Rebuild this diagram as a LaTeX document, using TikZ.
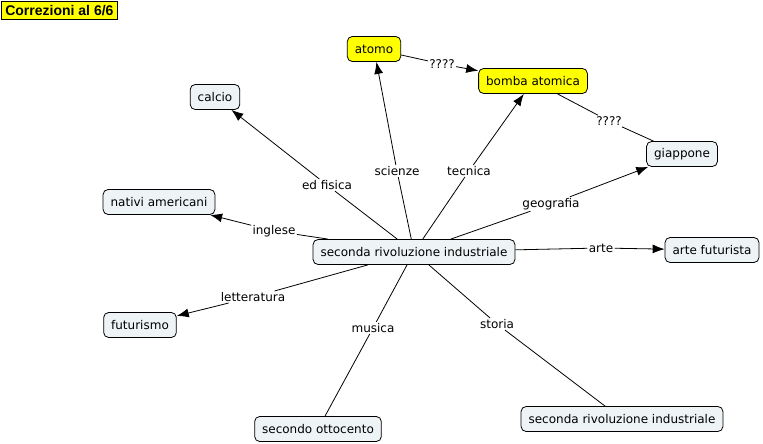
\documentclass[tikz,border=0pt]{standalone}
\usepackage{fontspec}
\setmainfont{DejaVu Sans}
\newfontfamily\titlefont{Liberation Sans}
\usetikzlibrary{arrows.meta}
\definecolor{conceptfill}{RGB}{238,243,245}
\definecolor{mapyellow}{RGB}{255,255,0}

\begin{document}
\begin{tikzpicture}[x=1pt,y=-1pt,->,>={Latex[length=12pt,width=9pt]},line width=0.8pt,
  main node/.style={draw,rounded corners=5pt,fill=conceptfill,font=\fontsize{12}{14}\selectfont,inner xsep=7.5pt,minimum height=25pt},
  link node/.style={fill=white,inner sep=1pt,font=\fontsize{12}{14}\selectfont}]
\useasboundingbox (0,0) rectangle (763,444);

\node[draw,fill=mapyellow,anchor=north west,minimum width=116pt,minimum height=18pt,inner sep=0pt,font=\titlefont\bfseries\fontsize{14}{16}\selectfont] (title) at (1,1) {Correzioni al 6/6};

\node[main node] (sri) at (414,252) {seconda rivoluzione industriale};
\node[main node,fill=mapyellow] (atomo) at (374,49) {atomo};
\node[main node,fill=mapyellow] (bomba) at (533,81) {bomba atomica};
\node[main node] (calcio) at (215,97) {calcio};
\node[main node] (giappone) at (682,154) {giappone};
\node[main node] (nativi) at (159,202) {nativi americani};
\node[main node] (artefut) at (712,250) {arte futurista};
\node[main node] (futurismo) at (140,325) {futurismo};
\node[main node] (ottocento) at (318,429) {secondo ottocento};
\node[main node] (sri2) at (622,419) {seconda rivoluzione industriale};

\node[link node] (q1) at (442,64) {????};
\node[link node] (q2) at (609,121) {????};
\node[link node] (scienze) at (397,171) {scienze};
\node[link node] (tecnica) at (469,171) {tecnica};
\node[link node] (edfisica) at (327,185) {ed fisica};
\node[link node] (geografia) at (551,204) {geografia};
\node[link node] (inglese) at (274,231) {inglese};
\node[link node] (arte) at (601,248) {arte};
\node[link node] (letteratura) at (253,297) {letteratura};
\node[link node] (musica) at (373,328) {musica};
\node[link node] (storia) at (497,324) {storia};

\path
(atomo) edge[-] (q1) (q1) edge (bomba)
(bomba) edge[-] (q2) (q2) edge[-] (giappone)
(sri) edge[-] (scienze) (scienze) edge (atomo)
(sri) edge[-] (tecnica) (tecnica) edge (bomba)
(sri) edge[-] (edfisica) (edfisica) edge (calcio)
(sri) edge[-] (geografia) (geografia) edge (giappone)
(sri) edge[-] (inglese) (inglese) edge (nativi)
(sri) edge[-] (arte) (arte) edge (artefut)
(sri) edge[-] (letteratura) (letteratura) edge (futurismo)
(sri) edge[-] (musica) (musica) edge[-] (ottocento)
(sri) edge[-] (storia) (storia) edge[-] (sri2);
\end{tikzpicture}
\end{document}
